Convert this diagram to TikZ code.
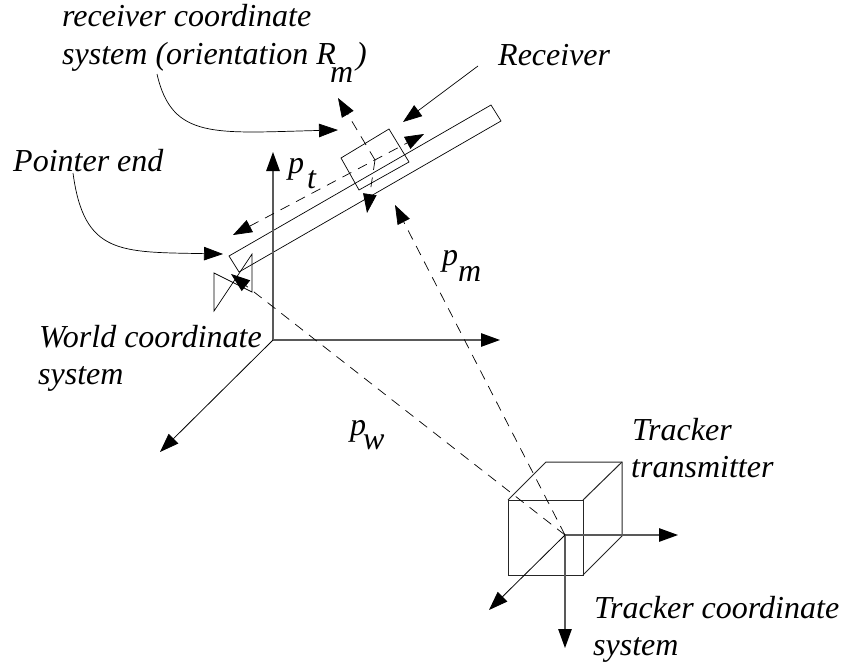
\documentclass[tikz,border=0pt]{standalone}
\usepackage{fontspec}
\setmainfont{Liberation Serif}
\usetikzlibrary{arrows.meta}
\tikzset{
  head/.style={-{Triangle[length=19pt,width=13.5pt,color=black]}},
  dhead/.style={{Triangle[length=19pt,width=13.5pt]}-{Triangle[length=19pt,width=13.5pt]}},
  axisline/.style={head,line width=1.1pt,black!65},
  axisthin/.style={head,line width=.8pt,black},
  thin line/.style={line width=.7pt},
  cube line/.style={line width=1pt,black!85},
  dash line/.style={line width=.7pt,dash pattern=on 10pt off 7.5pt},
  lab/.style={inner sep=0pt,anchor=base west,font=\fontsize{32}{36}\selectfont\itshape}
}
\begin{document}
\begin{tikzpicture}[x=1pt,y=-1pt]
\useasboundingbox (0,0) rectangle (842,666);
% coordinates
\coordinate (wo) at (273,340);
\coordinate (wu) at (273,152);
\coordinate (wr) at (500,340);
\coordinate (wd) at (160,452);
\coordinate (to) at (565,535);
\coordinate (tr) at (678,535);
\coordinate (td) at (565,648);
\coordinate (tl) at (489,610);
\coordinate (pmtip) at (395,205);
\coordinate (pwtip) at (231,274);
\coordinate (pta) at (233,235);
\coordinate (ptb) at (424,134);
\coordinate (rc) at (375,160);
\coordinate (ru) at (338,98);
\coordinate (rd) at (367,213);
% bar
\draw[thin line] (491,105) -- (501,121) -- (239,272) -- (229,256) -- cycle;
% receiver box
\draw[thin line] (341,158) -- (389,129) -- (409,162) -- (359,190) -- cycle;
% pointer tip bowtie
\draw[thin line] (252,254) -- (252,292) -- (214,273) -- (214,311) -- cycle;
% world axes
\draw[axisline] (wo) -- (wu);
\draw[axisline] (wo) -- (wr);
\draw[axisthin] (wo) -- (wd);
% cube
\draw[cube line] (508,500) rectangle (583,575);
\draw[cube line] (508,500) -- (546,462) -- (622,462) -- (622,536) -- (583,575);
\draw[cube line] (583,500) -- (622,462);
% tracker axes
\draw[axisline] (to) -- (tr);
\draw[axisline] (to) -- (td);
\draw[axisthin] (to) -- (tl);
% dashed
\draw[dash line,head] (to) -- (pmtip);
\draw[dash line,head] (to) -- (pwtip);
\draw[dash line,dhead] (pta) -- (ptb);
\draw[dash line,head] (rc) -- (ru);
\draw[dash line,head] (rc) -- (rd);
% label leaders
\coordinate (recv) at (478,66);
\coordinate (recvtip) at (403,122);
\coordinate (c1s) at (157,74);
\coordinate (c1e) at (338,130);
\coordinate (c2s) at (73,173);
\coordinate (c2e) at (223,254);
\draw[thin line,head] (recv) -- (recvtip);
\draw[thin line,head] (c1s) .. controls (172,140) and (215,133) .. (c1e);
\draw[thin line,head] (c2s) .. controls (84,255) and (120,252) .. (c2e);
% labels
\node[lab] (l1) at (62,27) {receiver coordinate};
\node[lab] (l2) at (62,65) {system (orientation R};
\node[lab] (rms) at (330,83) {m};
\node[lab] (l2b) at (356,65) {)};
\node[lab] (l3) at (498,66) {Receiver};
\node[lab] (l4) at (13,171) {Pointer end};
\node[lab] (pt) at (288,173) {p};
\node[lab] (pts) at (307,188) {t};
\node[lab] (pm) at (442,265) {p};
\node[lab] (pms) at (458,281) {m};
\node[lab] (l5) at (39,347) {World coordinate};
\node[lab] (l6) at (38,384) {system};
\node[lab] (pw) at (350,435) {p};
\node[lab] (pws) at (363,449) {w};
\node[lab] (l7) at (632,440) {Tracker};
\node[lab] (l8) at (631,477) {transmitter};
\node[lab] (l9) at (594,618) {Tracker coordinate};
\node[lab] (l10) at (593,655) {system};
\end{tikzpicture}
\end{document}
